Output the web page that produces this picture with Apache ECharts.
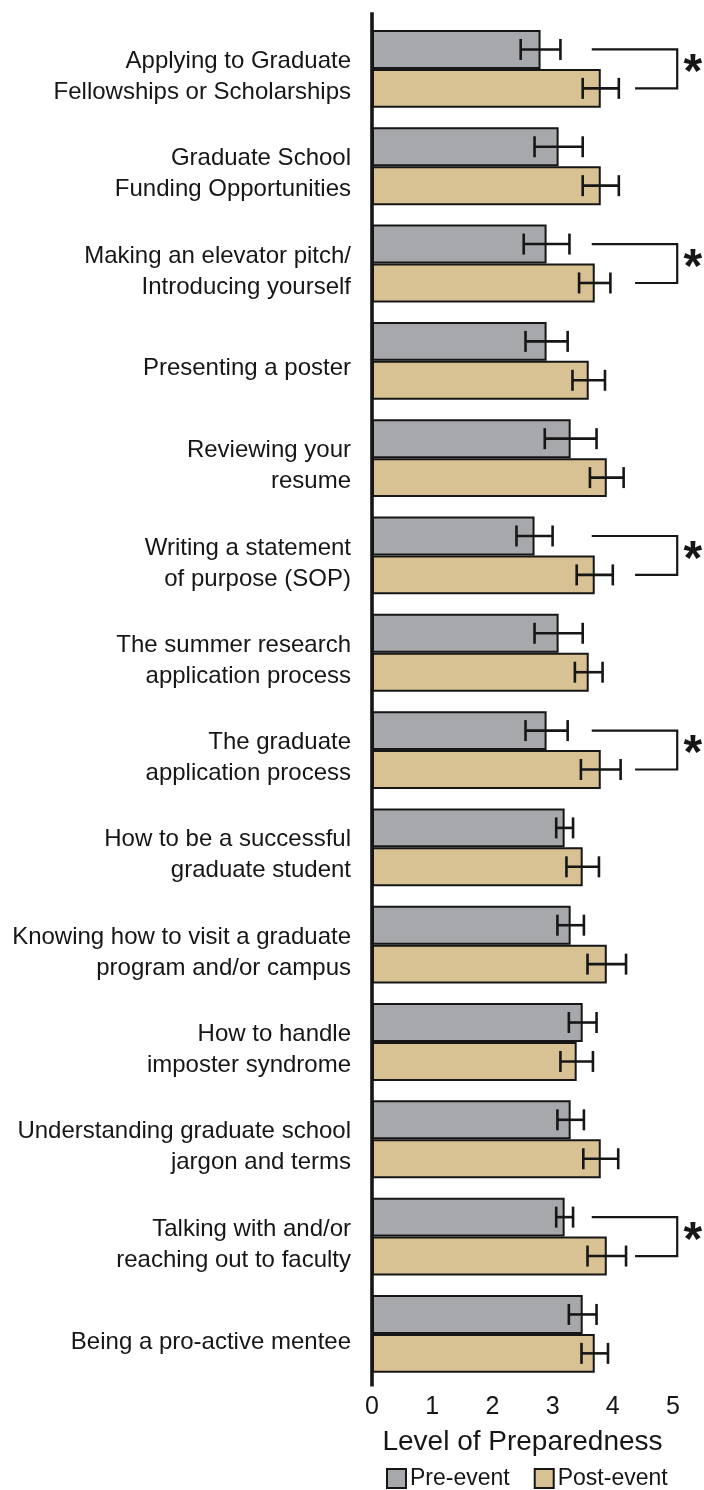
<!DOCTYPE html>
<html>
<head>
<meta charset="utf-8">
<script src="https://cdn.jsdelivr.net/npm/echarts@6/dist/echarts.min.js"></script>
<style>
html,body{margin:0;padding:0;background:#fff;}
#chart{width:704px;height:1490px;}
</style>
</head>
<body>
<div id="chart"></div>
<script>
var categories = [
  'Applying to Graduate\nFellowships or Scholarships',
  'Graduate School\nFunding Opportunities',
  'Making an elevator pitch/\nIntroducing yourself',
  'Presenting a poster',
  'Reviewing your\nresume',
  'Writing a statement\nof purpose (SOP)',
  'The summer research\napplication process',
  'The graduate\napplication process',
  'How to be a successful\ngraduate student',
  'Knowing how to visit a graduate\nprogram and/or campus',
  'How to handle\nimposter syndrome',
  'Understanding graduate school\njargon and terms',
  'Talking with and/or\nreaching out to faculty',
  'Being a pro-active mentee'
];
var preEvent  = [2.8, 3.1, 2.9, 2.9, 3.3, 2.7, 3.1, 2.9, 3.2, 3.3, 3.5, 3.3, 3.2, 3.5];
var postEvent = [3.8, 3.8, 3.7, 3.6, 3.9, 3.7, 3.6, 3.8, 3.5, 3.9, 3.4, 3.8, 3.9, 3.7];
var preErr    = [0.33, 0.40, 0.38, 0.35, 0.43, 0.30, 0.40, 0.35, 0.14, 0.22, 0.23, 0.22, 0.14, 0.23];
var postErr   = [0.30, 0.30, 0.26, 0.27, 0.28, 0.30, 0.23, 0.33, 0.27, 0.32, 0.27, 0.29, 0.32, 0.22];
var significant = [true, false, true, false, false, true, false, true, false, false, false, false, true, false];
var xTicks = [0, 1, 2, 3, 4, 5];

var FONT = "'Liberation Sans', Arial, Helvetica, sans-serif";
var INK = '#161616';
var GRAY = '#a7a8ab';
var TAN = '#d8c193';

var errData = [];
for (var i = 0; i < categories.length; i++) {
  errData.push([i, preEvent[i], preErr[i], -1]);
  errData.push([i, postEvent[i], postErr[i], 1]);
}
var sigData = [];
for (var j = 0; j < significant.length; j++) {
  if (significant[j]) sigData.push([j, 5]);
}
var labelData = categories.map(function (c, k) { return [k, 0]; });

function renderErr(params, api) {
  var idx = api.value(0), v = api.value(1), e = api.value(2), side = api.value(3);
  var c = api.coord([v, idx]);
  var band = api.size([0, 1])[1];
  var y = c[1] + side * band * 0.2;
  var lo = api.coord([v - e, idx])[0];
  var hi = api.coord([v + e, idx])[0];
  var cap = 10.5;
  var st = { stroke: INK, lineWidth: 2.6 };
  return { type: 'group', children: [
    { type: 'line', shape: { x1: lo, y1: y, x2: hi, y2: y }, style: st },
    { type: 'line', shape: { x1: lo, y1: y - cap, x2: lo, y2: y + cap }, style: st },
    { type: 'line', shape: { x1: hi, y1: y - cap, x2: hi, y2: y + cap }, style: st }
  ]};
}

function renderSig(params, api) {
  var idx = api.value(0);
  var c = api.coord([0, idx]);
  var band = api.size([0, 1])[1];
  var yPre = c[1] - band * 0.2;
  var yPost = c[1] + band * 0.2;
  var xStart = api.coord([3.65, idx])[0];
  var xEdge = api.coord([5.07, idx])[0];
  var xLow = api.coord([4.37, idx])[0];
  var xStar = api.coord([5.33, idx])[0];
  return { type: 'group', children: [
    { type: 'polyline', shape: { points: [[xStart, yPre], [xEdge, yPre], [xEdge, yPost], [xLow, yPost]] },
      style: { stroke: INK, lineWidth: 2.2, fill: null } },
    { type: 'text', style: { text: '*', x: xStar, y: c[1] + 5, fill: INK, fontSize: 48,
      fontWeight: 'bold', fontFamily: FONT, align: 'center', verticalAlign: 'middle' } }
  ]};
}

function renderLabel(params, api) {
  var idx = api.value(0);
  var c = api.coord([0, idx]);
  return { type: 'text', style: { text: categories[idx], x: c[0] - 21, y: c[1] + 8,
    align: 'right', verticalAlign: 'middle', fontSize: 24, lineHeight: 31,
    fill: INK, fontFamily: FONT } };
}

function renderAxis(params, api) {
  var cs = params.coordSys;
  return { type: 'line', shape: { x1: cs.x, y1: cs.y - 8, x2: cs.x, y2: cs.y + cs.height + 4 },
    style: { stroke: INK, lineWidth: 3.6 } };
}

var chart = echarts.init(document.getElementById('chart'), null, { renderer: 'canvas' });
chart.setOption({
  animation: false,
  backgroundColor: '#ffffff',
  textStyle: { fontFamily: FONT },
  grid: { left: 372, right: 31, top: 20.25, height: 1362.3, containLabel: false },
  legend: {
    data: ['Pre-event', 'Post-event'],
    left: 381, top: 1462,
    icon: 'rect', itemWidth: 19, itemHeight: 19, itemGap: 24,
    textStyle: { fontSize: 23, color: INK, fontFamily: FONT, padding: [0, 0, 0, -1] },
    itemStyle: { borderColor: INK, borderWidth: 2 }
  },
  xAxis: {
    type: 'value', min: 0, max: 5, interval: 1,
    axisLine: { show: false }, axisTick: { show: false }, splitLine: { show: false },
    axisLabel: { fontSize: 25, color: INK, margin: 12, fontFamily: FONT,
      formatter: function (v) { return xTicks.indexOf(v) >= 0 ? String(v) : ''; } },
    name: 'Level of Preparedness', nameLocation: 'middle', nameGap: 46,
    nameTextStyle: { fontSize: 28, color: INK, fontFamily: FONT }
  },
  yAxis: {
    type: 'category', data: categories, inverse: true,
    axisLine: { show: false }, axisTick: { show: false }, splitLine: { show: false },
    axisLabel: { show: false }
  },
  series: [
    { name: 'Pre-event', type: 'bar', data: preEvent, barGap: '0%', barCategoryGap: '20%',
      itemStyle: { color: GRAY, borderColor: INK, borderWidth: 2 } },
    { name: 'Post-event', type: 'bar', data: postEvent, barGap: '0%', barCategoryGap: '20%',
      itemStyle: { color: TAN, borderColor: INK, borderWidth: 2 } },
    { type: 'custom', name: 'err', data: errData, renderItem: renderErr, encode: { x: 1, y: 0 },
      z: 5, clip: false, silent: true },
    { type: 'custom', name: 'sig', data: sigData, renderItem: renderSig, encode: { x: 1, y: 0 },
      z: 5, clip: false, silent: true },
    { type: 'custom', name: 'labels', data: labelData, renderItem: renderLabel, encode: { x: 1, y: 0 },
      z: 5, clip: false, silent: true },
    { type: 'custom', name: 'axis', data: [[0, 0]], renderItem: renderAxis, encode: { x: 1, y: 0 },
      z: 6, clip: false, silent: true }
  ]
});
</script>
</body>
</html>
